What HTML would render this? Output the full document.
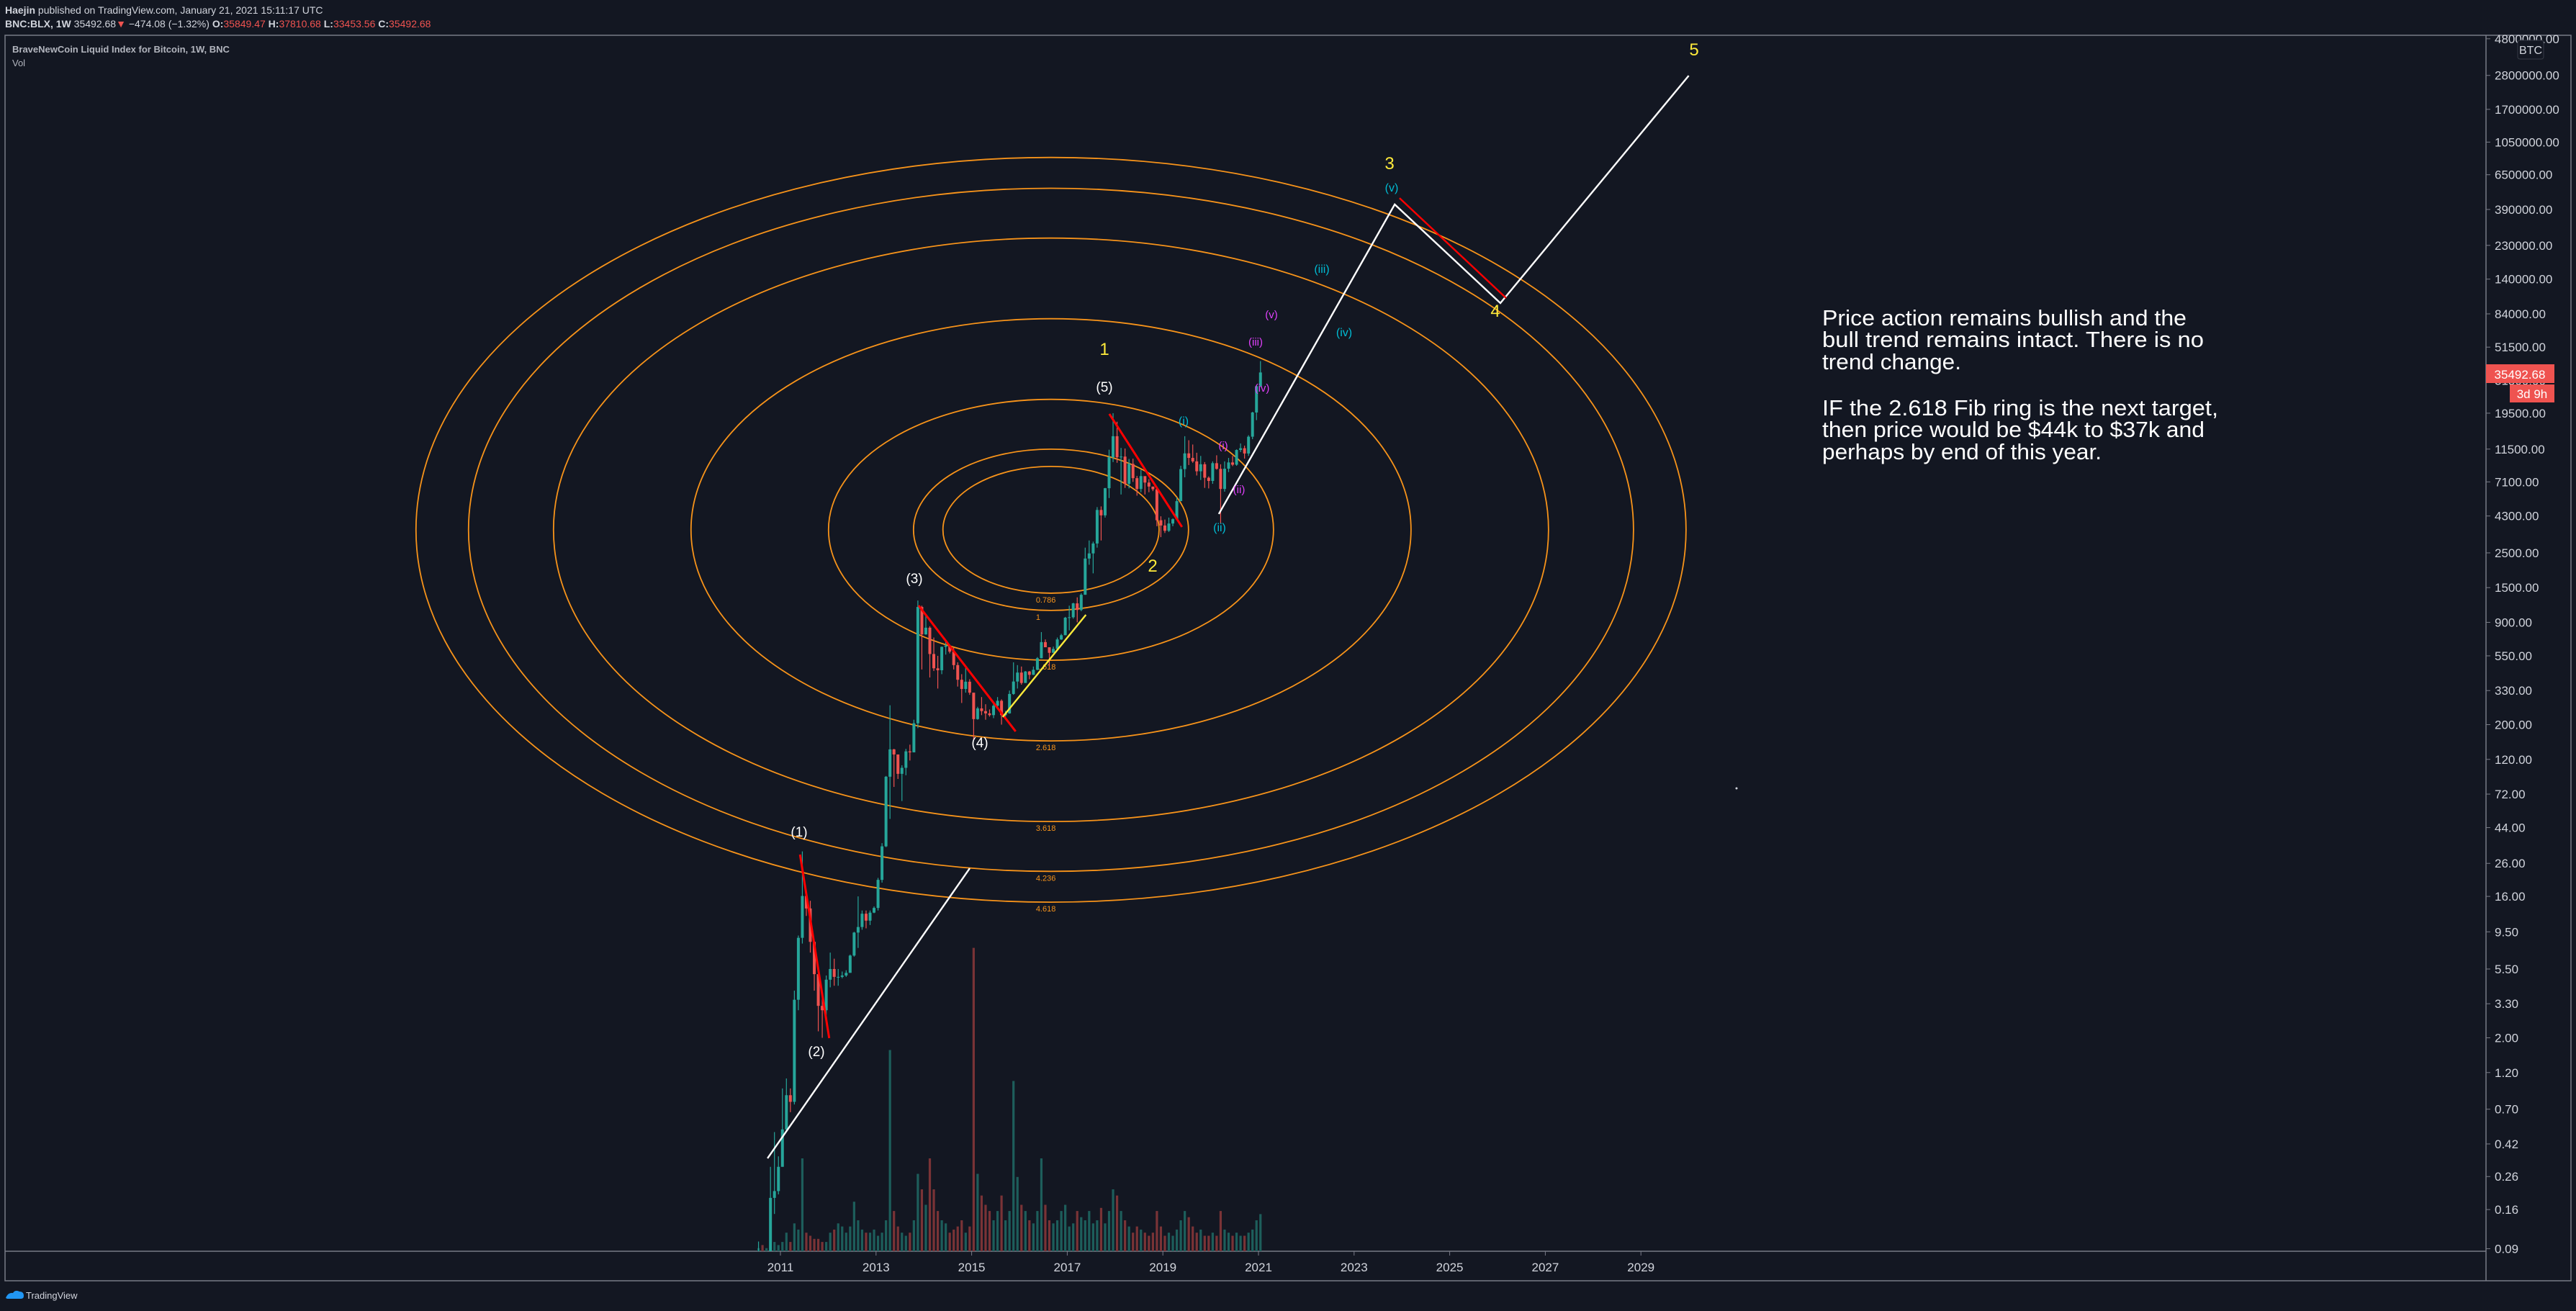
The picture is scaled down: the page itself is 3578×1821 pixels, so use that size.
<!DOCTYPE html>
<html><head><meta charset="utf-8"><style>
html,body{margin:0;padding:0;background:#131722;}
svg{display:block;font-family:"Liberation Sans",sans-serif;}
</style></head><body>
<svg id="chart" width="3578" height="1821" viewBox="0 0 3578 1821" xmlns="http://www.w3.org/2000/svg">
<defs><clipPath id="plotClip"><rect x="7" y="49" width="3446" height="1689"/></clipPath></defs>
<rect width="3578" height="1821" fill="#131722"/>
<text x="7" y="19" font-size="14" fill="#d1d4dc"><tspan font-weight="bold">Haejin</tspan> published on TradingView.com, January 21, 2021 15:11:17 UTC</text>
<text x="7" y="38" font-size="14" fill="#d1d4dc"><tspan font-weight="bold">BNC:BLX, 1W</tspan>  35492.68<tspan fill="#ef5350">▼</tspan> −474.08 (−1.32%) <tspan font-weight="bold">O:</tspan><tspan fill="#ef5350">35849.47</tspan> <tspan font-weight="bold">H:</tspan><tspan fill="#ef5350">37810.68</tspan> <tspan font-weight="bold">L:</tspan><tspan fill="#ef5350">33453.56</tspan> <tspan font-weight="bold">C:</tspan><tspan fill="#ef5350">35492.68</tspan></text>
<rect x="7" y="49" width="3564" height="1730" fill="none" stroke="#787b86" stroke-width="1.5"/>
<line x1="3453" y1="49" x2="3453" y2="1779" stroke="#787b86" stroke-width="1.5"/>
<line x1="7" y1="1738" x2="3453" y2="1738" stroke="#787b86" stroke-width="1.5"/>
<text x="17" y="73" font-size="13" font-weight="bold" fill="#b2b5be">BraveNewCoin Liquid Index for Bitcoin, 1W, BNC</text>
<text x="17" y="92" font-size="13" fill="#b2b5be">Vol</text>
<g clip-path="url(#plotClip)">
<g id="vol"></g>
<g id="rings"></g>
<g id="candles"></g>
<g id="annot"></g>
</g>
<g id="yaxis"></g>
<g id="xaxis"></g>
<g font-size="19" text-anchor="middle">
<text x="1110" y="1162" fill="#fff">(1)</text>
<text x="1134" y="1467" fill="#fff">(2)</text>
<text x="1270" y="810" fill="#fff">(3)</text>
<text x="1361" y="1038" fill="#fff">(4)</text>
<text x="1534" y="544" fill="#fff">(5)</text>
<text x="1534" y="493" fill="#ffeb3b" font-size="24">1</text>
<text x="1601" y="794" fill="#ffeb3b" font-size="24">2</text>
<text x="1930" y="235" fill="#ffeb3b" font-size="24">3</text>
<text x="2077" y="440" fill="#ffeb3b" font-size="24">4</text>
<text x="2353" y="77" fill="#ffeb3b" font-size="24">5</text>
<g fill="#00bcd4" font-size="16">
<text x="1933" y="266">(v)</text>
<text x="1836" y="379">(iii)</text>
<text x="1867" y="467">(iv)</text>
<text x="1644" y="590">(i)</text>
<text x="1694" y="738">(ii)</text>
</g>
<g fill="#e040fb" font-size="15">
<text x="1766" y="442">(v)</text>
<text x="1744" y="480">(iii)</text>
<text x="1753" y="544">(iv)</text>
<text x="1699" y="624">(i)</text>
<text x="1721" y="685">(ii)</text>
</g>
</g>
<g font-size="31" fill="#ffffff">
<text x="2531" y="452" textLength="506" lengthAdjust="spacingAndGlyphs">Price action remains bullish and the</text>
<text x="2531" y="482" textLength="530" lengthAdjust="spacingAndGlyphs">bull trend remains intact. There is no</text>
<text x="2531" y="513" textLength="193" lengthAdjust="spacingAndGlyphs">trend change.</text>
<text x="2531" y="577" textLength="550" lengthAdjust="spacingAndGlyphs">IF the 2.618 Fib ring is the next target,</text>
<text x="2531" y="607" textLength="531" lengthAdjust="spacingAndGlyphs">then price would be $44k to $37k and</text>
<text x="2531" y="638" textLength="388" lengthAdjust="spacingAndGlyphs">perhaps by end of this year.</text>
</g>
<circle cx="2412" cy="1095" r="1.5" fill="#d1d4dc"/>
<rect x="3453" y="506" width="95" height="26" fill="#ef5350"/>
<text x="3500" y="526" font-size="17" fill="#fff" text-anchor="middle">35492.68</text>
<rect x="3486" y="534" width="62" height="25" fill="#ef5350"/>
<text x="3517" y="553" font-size="17" fill="#fff" text-anchor="middle">3d 9h</text>
<rect x="3497" y="56" width="36" height="26" rx="3" fill="#131722" stroke="#363a45"/>
<text x="3515" y="75" font-size="16" fill="#d1d4dc" text-anchor="middle">BTC</text>
<g>
<path d="M8 1803 q3-8 10-7 q3-5 9-2 q6 0 6 6 q0 4-4 4 h-19 z" fill="#2196f3"/>
<text x="36" y="1804" font-size="13" fill="#d1d4dc">TradingView</text>
</g>
</svg>
<script>
const closes = [0.07,0.06,0.06,0.19,0.21,0.30,
0.52,0.86,0.78,3.5,8.7,16.1,13.4,8.2,5.1,3.2,3.0,4.7,
5.5,4.9,4.9,5.0,5.2,6.7,9.4,10.2,12.4,11.2,12.6,13.5,
20.4,33.4,93,139,129,97,106,135,133,204,1129,754,
832,565,458,445,628,640,585,480,387,338,376,320,
217,254,244,236,230,264,284,230,236,314,377,430,
369,437,416,448,531,673,624,575,609,700,745,964,
970,1190,1080,1350,2300,2480,2870,4700,4340,6470,10200,13900,
10200,10300,6900,9250,7500,6400,7730,7030,6630,6370,4040,3740,
3460,3850,4100,5350,8570,10800,10100,9600,8300,9200,7550,7200,
9350,8600,6400,8620,9450,9140,11350,11650,10780,13800,19700,29000,
35492];
const highs = [0.1,0.07,0.07,0.3,0.5,0.35,
0.95,1.1,0.95,4,9,31,17,15,8,5,3.8,5,
7,6.4,5.5,5.3,5.4,6.8,9.5,16,13,13,13,13.8,
21,35,94,266,140,124,110,140,149,215,1240,1150,
1000,850,720,550,630,680,650,620,500,420,460,390,
300,260,300,270,250,270,300,290,245,330,500,480,
470,440,440,470,540,780,700,620,630,720,760,975,
1150,1200,1300,1380,2700,3000,2950,4900,4950,6500,11400,19500,
17200,11700,11600,9950,9990,7750,8480,7700,7400,6600,6500,4280,
4080,4200,4150,5640,9000,13900,13100,12300,10900,10400,9500,7700,
9600,10500,9200,9600,10100,10400,11450,12500,12100,14100,19900,29300,
41950];
const lows = [0.05,0.05,0.05,0.06,0.15,0.2,
0.3,0.5,0.67,0.75,3,8,12,7,4,2.2,2,2.8,
4.2,4.3,4.3,4.8,4.9,5.2,6.6,7.5,9.8,10,10.5,12.5,
13,19.6,33,50,80,90,65,95,118,135,190,450,
750,400,440,340,420,560,570,450,350,275,320,310,
160,215,230,215,225,220,255,200,225,235,310,340,
360,370,390,415,445,530,625,470,595,605,695,745,
800,950,900,1060,1350,2100,1850,2700,3000,4200,5600,9500,
9400,5900,6500,6450,7100,5800,6100,5900,6100,6200,3700,3150,
3350,3400,3700,4050,5350,7600,9100,9400,7800,7300,6500,6450,
6900,8500,3850,6150,8200,8950,9000,11000,10000,10400,13300,17600,
28700];
const volumes = [1,2,1,4,3,2,
3,6,3,9,7,30,6,5,4,4,3,3,
6,7,9,8,6,8,16,10,7,6,6,7,
5,6,10,65,13,8,6,5,6,10,25,20,
15,30,20,13,10,9,6,7,8,10,6,8,
98,25,18,15,13,10,13,18,10,13,55,24,
15,13,10,9,13,30,15,10,9,10,13,15,
8,9,13,11,10,13,9,10,14,9,13,20,
18,13,10,8,6,8,7,6,5,6,13,8,
5,6,5,7,10,13,11,8,6,7,5,5,
6,5,13,7,6,5,6,5,5,6,7,10,
12];
const startYear = 2010.5;
const priceTicks = [4800000,2800000,1700000,1050000,650000,390000,230000,140000,84000,51500,31500,19500,11500,7100,4300,2500,1500,900,550,330,200,120,72,44,26,16,9.5,5.5,3.3,2,1.2,0.7,0.42,0.26,0.16,0.09];
const yearTicks = [2011,2013,2015,2017,2019,2021,2023,2025,2027,2029];
const fibLevels = [0.786,1,1.618,2.618,3.618,4.236,4.618];
const fibCenter = [2016.66,3510];

const NS='http://www.w3.org/2000/svg';
function xOf(t){return 1084+66.4*(t-2011);}
function yOf(v){return 1507-217.5*Math.log10(v);}
function volY(v){return 1738-v*4.3;}
function mk(tag,attrs,parent){const e=document.createElementNS(NS,tag);for(const k in attrs)e.setAttribute(k,attrs[k]);parent.appendChild(e);return e;}

const volG=document.getElementById('vol');
const candG=document.getElementById('candles');
for(let i=0;i<closes.length;i++){
  const t=startYear+i/12+1/24;
  const x=xOf(t);
  const o=i===0?closes[0]:closes[i-1];
  const c=closes[i];
  const up=c>=o;
  const col=up?'#26a69a':'#ef5350';
  const vcol=up?'#1d5e5b':'#7a3336';
  const vb=mk('rect',{x:x-1.6,y:volY(volumes[i]),width:3.2,height:1738-volY(volumes[i]),fill:vcol},volG);
  
  
  const w=mk('line',{x1:x,x2:x,y1:yOf(highs[i]),y2:yOf(lows[i]),stroke:col,'stroke-width':1.2},candG);
  
  
  const top=Math.min(yOf(o),yOf(c)),bot=Math.max(yOf(o),yOf(c));
  const b=mk('rect',{x:x-2,y:top,width:4,height:Math.max(1,bot-top),fill:col},candG);
  
  
}

const ringG=document.getElementById('rings');
const cx=xOf(fibCenter[0]),cy=yOf(fibCenter[1]);
fibLevels.forEach(l=>{
  const e=mk('ellipse',{cx:cx,cy:cy,rx:191*l,ry:112*l,fill:'none',stroke:'#f7931a','stroke-width':1.8},ringG);
  
  
  const tx=mk('text',{x:cx-21,y:cy+112*l+13,'font-size':11,fill:'#f7931a'},ringG);
  tx.textContent=String(l===1?'1':l);
  
  
});

const annG=document.getElementById('annot');
function poly(pts,col,w,name){
  const p=mk('polyline',{points:pts.map(q=>xOf(q[0])+','+yOf(q[1])).join(' '),fill:'none',stroke:col,'stroke-width':w},annG);
  
  
}
poly([[2010.73,0.34],[2014.96,24.2]],'#ffffff',2.4,'trendline-lower');
poly([[2020.17,4430],[2023.85,420000],[2026.06,98400],[2030.0,2790000]],'#ffffff',2.4,'wave-projection');
poly([[2023.95,461000],[2026.18,106000]],'#ff0000',2.4,'red-line-wave4');
poly([[2011.41,29.6],[2012.02,1.99]],'#ff0000',3,'red-line-wave2');
poly([[2013.89,1153],[2015.92,181]],'#ff0000',3,'red-line-wave4-old');
poly([[2017.88,19300],[2019.40,3660]],'#ff0000',3,'red-line-major2');
poly([[2015.65,224],[2017.39,1005]],'#ffeb3b',2.4,'yellow-trendline');

const yG=document.getElementById('yaxis');
priceTicks.forEach(v=>{
  const y=yOf(v);
  if(y<50||y>1738)return;
  const tk=mk('line',{x1:3453,x2:3459,y1:y,y2:y,stroke:'#787b86'},yG);
  
  
  const t=mk('text',{x:3465,y:y+6,'font-size':17,fill:'#d1d4dc'},yG);
  t.textContent=v.toFixed(2);
  
  
});
const xG=document.getElementById('xaxis');
yearTicks.forEach(yr=>{
  const x=xOf(yr);
  const tk=mk('line',{x1:x,x2:x,y1:1738,y2:1744,stroke:'#787b86'},xG);
  
  
  const t=mk('text',{x:x,y:1766,'font-size':17,fill:'#d1d4dc','text-anchor':'middle'},xG);
  t.textContent=String(yr);
  
  
});
</script>
</body></html>
